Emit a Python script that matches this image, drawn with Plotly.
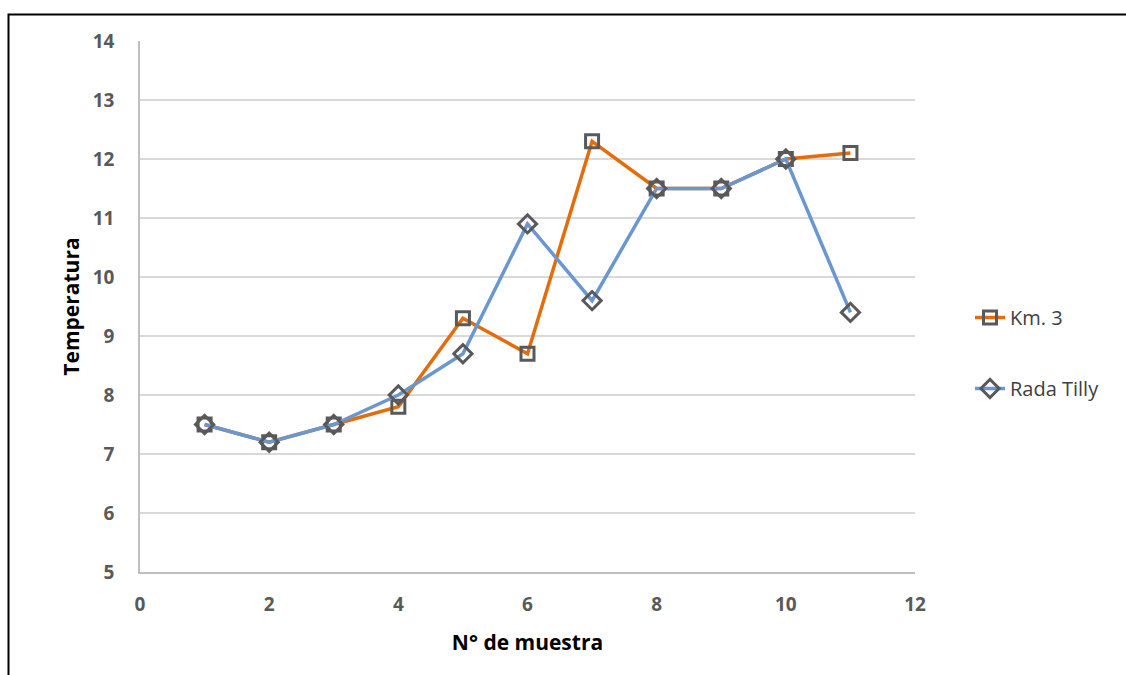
import plotly.graph_objects as go

muestra = [1, 2, 3, 4, 5, 6, 7, 8, 9, 10, 11]
km3 = [7.5, 7.2, 7.5, 7.8, 9.3, 8.7, 12.3, 11.5, 11.5, 12.0, 12.1]
rada_tilly = [7.5, 7.2, 7.5, 8.0, 8.7, 10.9, 9.6, 11.5, 11.5, 12.0, 9.4]
series_names = ["Km. 3", "Rada Tilly"]

L, R, T, B = 140, 211, 41, 103
W, H = 1126, 675
pw, ph = W - L - R, H - T - B

fig = go.Figure()
fig.add_trace(go.Scatter(
    x=muestra, y=km3, name=series_names[0], mode="lines+markers", legendgroup="a",
    line=dict(color="#E46C0A", width=3.5),
    marker=dict(symbol="square-open", size=13, color="#595959", line=dict(width=3, color="#595959")),
))
fig.add_trace(go.Scatter(
    x=muestra, y=rada_tilly, name=series_names[1], mode="lines+markers", legendgroup="b",
    line=dict(color="#6A97CF", width=3.5),
    marker=dict(symbol="diamond-open", size=14, color="#595959", line=dict(width=3, color="#595959")),
))

tickfont = dict(family="Open Sans", size=19, color="#595959", weight="bold")
titlefont = dict(family="Open Sans", size=21, color="#000000", weight="bold")
fig.update_layout(
    width=W, height=H,
    margin=dict(l=L, r=R, t=T, b=B),
    paper_bgcolor="white", plot_bgcolor="white",
    font=dict(family="Open Sans"),
    xaxis=dict(range=[0, 12], dtick=2, tick0=0, showgrid=False, zeroline=False,
               showline=True, linecolor="#BFBFBF", linewidth=1.5,
               tickfont=tickfont, ticks="", ticklabelstandoff=14,
               title=dict(text="N° de muestra", font=titlefont, standoff=20)),
    yaxis=dict(range=[5, 14], dtick=1, showgrid=True, gridcolor="#D9D9D9", gridwidth=1.5,
               zeroline=False, showline=True, linecolor="#BFBFBF", linewidth=1.5,
               tickfont=tickfont, ticks="", ticklabelstandoff=20,
               title=dict(text="Temperatura", font=titlefont, standoff=7)),
    legend=dict(x=(970 - L) / pw, y=(T + ph - 298) / ph, xanchor="left", yanchor="top",
                font=dict(family="Open Sans", size=20, color="#404040"),
                tracegroupgap=42, bgcolor="rgba(0,0,0,0)"),
    showlegend=True,
)
fig.add_shape(type="rect", xref="paper", yref="paper",
              x0=(8.5 - L) / pw, x1=1.4, y0=-0.4, y1=(T + ph - 14.5) / ph,
              line=dict(color="black", width=2), layer="below")

fig.write_html("out.html")
